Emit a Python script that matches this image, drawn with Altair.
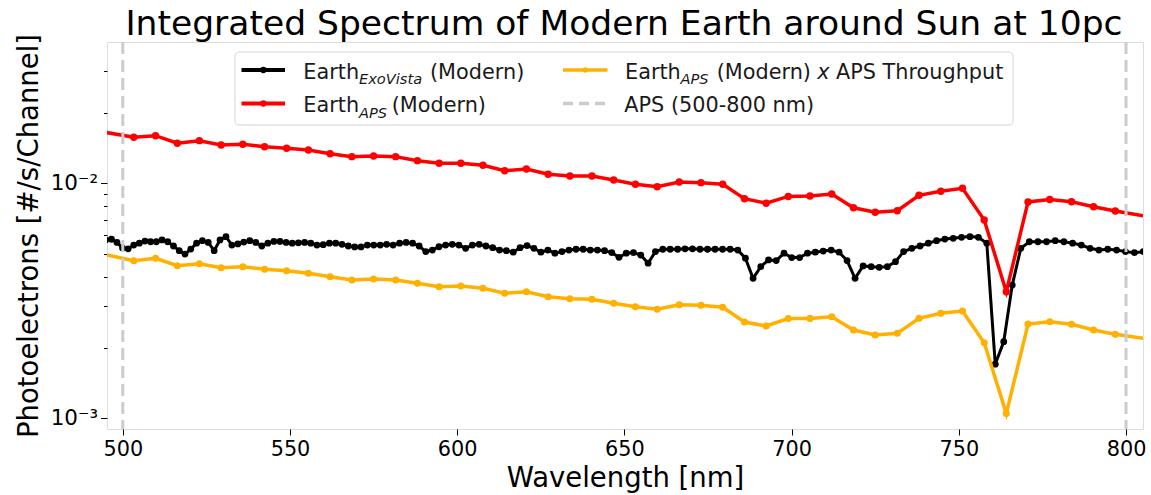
import altair as alt
import pandas as pd

# ExoVista Earth spectrum (fine resolution)
wl_exovista = [
    494.95, 496.61, 498.26, 499.93, 501.60, 503.27, 504.95, 506.64, 508.33, 510.03,
    511.73, 513.44, 515.16, 516.88, 518.60, 520.33, 522.07, 523.81, 525.56, 527.32,
    529.08, 530.85, 532.62, 534.40, 536.18, 537.97, 539.77, 541.57, 543.38, 545.19,
    547.01, 548.84, 550.67, 552.51, 554.36, 556.21, 558.06, 559.93, 561.80, 563.67,
    565.55, 567.44, 569.34, 571.24, 573.14, 575.06, 576.98, 578.90, 580.83, 582.77,
    584.72, 586.67, 588.63, 590.60, 592.57, 594.55, 596.53, 598.52, 600.52, 602.53,
    604.54, 606.56, 608.59, 610.62, 612.66, 614.70, 616.75, 618.81, 620.88, 622.95,
    625.03, 627.12, 629.22, 631.32, 633.43, 635.54, 637.66, 639.79, 641.93, 644.07,
    646.23, 648.38, 650.55, 652.72, 654.90, 657.09, 659.28, 661.48, 663.69, 665.91,
    668.13, 670.36, 672.60, 674.85, 677.10, 679.36, 681.63, 683.90, 686.19, 688.48,
    690.78, 693.09, 695.40, 697.72, 700.05, 702.39, 704.74, 707.09, 709.45, 711.82,
    714.20, 716.58, 718.98, 721.38, 723.79, 726.20, 728.63, 731.06, 733.50, 735.95,
    738.41, 740.88, 743.35, 745.83, 748.32, 750.82, 753.33, 755.85, 758.37, 760.90,
    763.44, 765.98, 768.53, 771.09, 773.66, 776.24, 778.83, 781.43, 784.03, 786.64,
    789.26, 791.89, 794.53, 797.18, 799.84, 802.51, 805.18,
]
flux_exovista = [
    0.00574, 0.00578, 0.00560, 0.00530, 0.00526, 0.00546, 0.00556, 0.00568, 0.00564, 0.00564,
    0.00574, 0.00564, 0.00541, 0.00517, 0.00500, 0.00525, 0.00556, 0.00570, 0.00560, 0.00517,
    0.00574, 0.00593, 0.00546, 0.00552, 0.00562, 0.00570, 0.00560, 0.00541, 0.00556, 0.00566,
    0.00566, 0.00560, 0.00556, 0.00558, 0.00560, 0.00556, 0.00546, 0.00548, 0.00556, 0.00556,
    0.00550, 0.00541, 0.00536, 0.00536, 0.00546, 0.00546, 0.00546, 0.00550, 0.00546, 0.00556,
    0.00560, 0.00556, 0.00541, 0.00512, 0.00520, 0.00537, 0.00546, 0.00550, 0.00546, 0.00529,
    0.00546, 0.00550, 0.00541, 0.00532, 0.00520, 0.00517, 0.00509, 0.00532, 0.00543, 0.00529,
    0.00509, 0.00520, 0.00504, 0.00512, 0.00520, 0.00524, 0.00524, 0.00520, 0.00520, 0.00517,
    0.00507, 0.00484, 0.00504, 0.00507, 0.00495, 0.00457, 0.00512, 0.00524, 0.00524, 0.00524,
    0.00526, 0.00526, 0.00524, 0.00524, 0.00524, 0.00524, 0.00524, 0.00520, 0.00480, 0.00394,
    0.00442, 0.00472, 0.00469, 0.00504, 0.00483, 0.00483, 0.00504, 0.00509, 0.00515, 0.00520,
    0.00509, 0.00469, 0.00394, 0.00445, 0.00442, 0.00439, 0.00442, 0.00464, 0.00512, 0.00529,
    0.00541, 0.00556, 0.00570, 0.00579, 0.00583, 0.00589, 0.00593, 0.00589, 0.00556, 0.00170,
    0.00212, 0.00369, 0.00529, 0.00564, 0.00564, 0.00564, 0.00570, 0.00564, 0.00556, 0.00546,
    0.00529, 0.00520, 0.00524, 0.00520, 0.00512, 0.00507, 0.00512,
]

# APS channel grid
wl_aps = [
    490.3, 503.3, 509.8, 516.3, 522.9, 529.4, 535.9, 542.4, 549.0, 555.5, 562.0,
    568.5, 575.0, 581.6, 588.1, 594.6, 601.1, 607.7, 614.2, 620.7, 627.2,
    633.7, 640.3, 646.8, 653.3, 659.8, 666.4, 672.9, 679.4, 685.9, 692.4,
    699.0, 705.5, 712.0, 718.5, 725.0, 731.6, 738.1, 744.6, 751.1, 757.6,
    764.2, 770.7, 777.2, 783.7, 790.3, 796.8, 809.8,
]
flux_aps = [
    0.01689, 0.01569, 0.01594, 0.01480, 0.01518, 0.01455, 0.01466, 0.01431, 0.01409, 0.01386, 0.01336,
    0.01298, 0.01307, 0.01298, 0.01248, 0.01216, 0.01216, 0.01193, 0.01131, 0.01150, 0.01092,
    0.01074, 0.01074, 0.01033, 0.00990, 0.00967, 0.01013, 0.01006, 0.00990, 0.00860, 0.00822,
    0.00879, 0.00883, 0.00900, 0.00787, 0.00753, 0.00764, 0.00889, 0.00925, 0.00952, 0.00698,
    0.003457, 0.00833, 0.00853, 0.00835, 0.00795, 0.00762, 0.00709,
]
flux_aps_throughput = [
    0.005132, 0.004685, 0.004796, 0.004461, 0.004549, 0.004374, 0.004417, 0.004306, 0.004248, 0.004140, 0.004005,
    0.003878, 0.003916, 0.003878, 0.003754, 0.003631, 0.003656, 0.003575, 0.003404, 0.003457, 0.003292,
    0.003228, 0.003210, 0.003087, 0.002986, 0.002910, 0.003045, 0.003027, 0.002968, 0.002570, 0.002471,
    0.002659, 0.002662, 0.002706, 0.002376, 0.002262, 0.002300, 0.002664, 0.002797, 0.002861, 0.002098,
    0.001048, 0.002520, 0.002577, 0.002512, 0.002376, 0.002277, 0.002141,
]

# APS band edges
aps_band = [500, 800]

x_ticks = [500, 550, 600, 650, 700, 750, 800]
y_ticks = [0.002, 0.003, 0.004, 0.005, 0.006, 0.007, 0.008, 0.009, 0.001, 0.01, 0.02, 0.03]

FONT = "DejaVu Sans"
W, H = 1036, 387

exo = pd.DataFrame({"wl": wl_exovista, "flux": flux_exovista})
aps = pd.DataFrame({"wl": wl_aps, "flux": flux_aps})
aps_tp = pd.DataFrame({"wl": wl_aps, "flux": flux_aps_throughput})
band = pd.DataFrame({"wl": aps_band})

xscale = alt.Scale(domain=[495.28, 805.08], nice=False, zero=False)
yscale = alt.Scale(type="log", domain=[0.000901, 0.0399], nice=False)

xaxis = alt.Axis(
    values=x_ticks, title="Wavelength [nm]", format="d", grid=False, domain=False,
    tickSize=6, tickColor="black", tickWidth=1, labelPadding=4,
    labelFont=FONT, labelFontSize=20.8, labelColor="black",
    titleFont=FONT, titleFontSize=27.5, titleFontWeight="normal", titleColor="black",
    titleBaseline="alphabetic", titleY=57, titlePadding=0,
)
major = "datum.value == 0.01 || datum.value == 0.001"
yaxis = alt.Axis(
    values=y_ticks, title="Photoelectrons [#/s/Channel]", grid=False, domain=False,
    tickSize={"condition": {"test": major, "value": 6.5}, "value": 3.5},
    tickColor="black", tickWidth=1, labelPadding=3, labelOverlap=False,
    labelExpr="datum.value == 0.01 ? '10⁻²' : (datum.value == 0.001 ? '10⁻³' : '')",
    labelFont=FONT, labelFontSize=21.5, labelColor="black",
    titleFont=FONT, titleFontSize=27.5, titleFontWeight="normal", titleColor="black",
    titleBaseline="alphabetic", titleX=-70, titleY=H / 2, titleAngle=270,
)

X = alt.X("wl:Q", scale=xscale, axis=xaxis)

black = alt.Chart(exo).mark_line(
    color="black", strokeWidth=3, clip=True,
    point=alt.OverlayMarkDef(color="black", size=46, filled=True, opacity=1),
).encode(x=X, y=alt.Y("flux:Q", scale=yscale, axis=yaxis))

red = alt.Chart(aps).mark_line(
    color="#ff0000", strokeWidth=3.5, clip=True,
    point=alt.OverlayMarkDef(color="#ff0000", size=55, filled=True, opacity=1),
).encode(x=X, y=alt.Y("flux:Q", scale=yscale, axis=yaxis))

orange = alt.Chart(aps_tp).mark_line(
    color="#ffb000", strokeWidth=3.5, clip=True,
    point=alt.OverlayMarkDef(color="#ffb000", size=50, filled=True, opacity=1),
).encode(x=X, y=alt.Y("flux:Q", scale=yscale, axis=yaxis))

band_lines = alt.Chart(band).mark_rule(
    color="#cccccc", strokeWidth=3, strokeDash=[12, 6]
).encode(x=X, y=alt.value(0), y2=alt.value(H))

# legend, title drawn in plot pixel space
one = pd.DataFrame({"k": [0]})
lg = alt.Chart(one)

legend_box = lg.mark_rect(
    fill="white", fillOpacity=0.8, stroke="#d5d5d5", strokeWidth=1, cornerRadius=4
).encode(x=alt.value(128), x2=alt.value(906), y=alt.value(10), y2=alt.value(83))

def legend_line(x0, x1, y, color, width, dash=None):
    kw = dict(color=color, strokeWidth=width)
    if dash:
        kw["strokeDash"] = dash
    return lg.mark_rule(**kw).encode(x=alt.value(x0), x2=alt.value(x1), y=alt.value(y))

def legend_dot(x, y, color, size):
    return lg.mark_point(filled=True, color=color, size=size, opacity=1).encode(
        x=alt.value(x), y=alt.value(y))

def txt(x, y, s, size=20.8, style="normal", align="left", color="#1a1a1a"):
    return lg.mark_text(
        text=s, font=FONT, fontSize=size, fontStyle=style, color=color,
        align=align, baseline="alphabetic",
    ).encode(x=alt.value(x), y=alt.value(y))

R1, R2 = 36.5, 70
S1, S2 = R1 + 5.5, R2 + 5.5
legend = [
    legend_box,
    legend_line(134.5, 178, 28, "black", 4), legend_dot(156.3, 28, "black", 40),
    legend_line(134.5, 178, 61.5, "#ff0000", 4), legend_dot(156.3, 61.5, "#ff0000", 40),
    legend_line(456, 500.5, 28, "#ffb000", 3.3), legend_dot(478.3, 28, "#ffb000", 28),
    legend_line(456, 500.5, 61.5, "#cccccc", 3.3, [10, 6]),
    txt(196.3, R1, "Earth"), txt(252, S1, "ExoVista", 14.6, "italic"), txt(323, R1, "(Modern)"),
    txt(196.3, R2, "Earth"), txt(252, S2, "APS", 14.6, "italic"), txt(284.7, R2, "(Modern)"),
    txt(518, R1, "Earth"), txt(573.5, S1, "APS", 14.6, "italic"), txt(609.7, R1, "(Modern)"),
    txt(710.3, R1, "x", 20.8, "italic"), txt(729, R1, "APS Throughput"),
    txt(517.3, R2, "APS (500-800 nm)"),
]

title = txt(W / 2 - 1, -7, "Integrated Spectrum of Modern Earth around Sun at 10pc",
            34.5, "normal", "center", "black")

chart = alt.layer(black, red, orange, band_lines, *legend, title).properties(
    width=W, height=H,
    autosize=alt.AutoSizeParams(type="none"),
    padding={"left": 107, "top": 42, "right": 8, "bottom": 66},
).configure_view(stroke="black", strokeWidth=1.2).configure(background="white")

chart.save("out.html", embed_options={"renderer": "svg", "actions": False})
